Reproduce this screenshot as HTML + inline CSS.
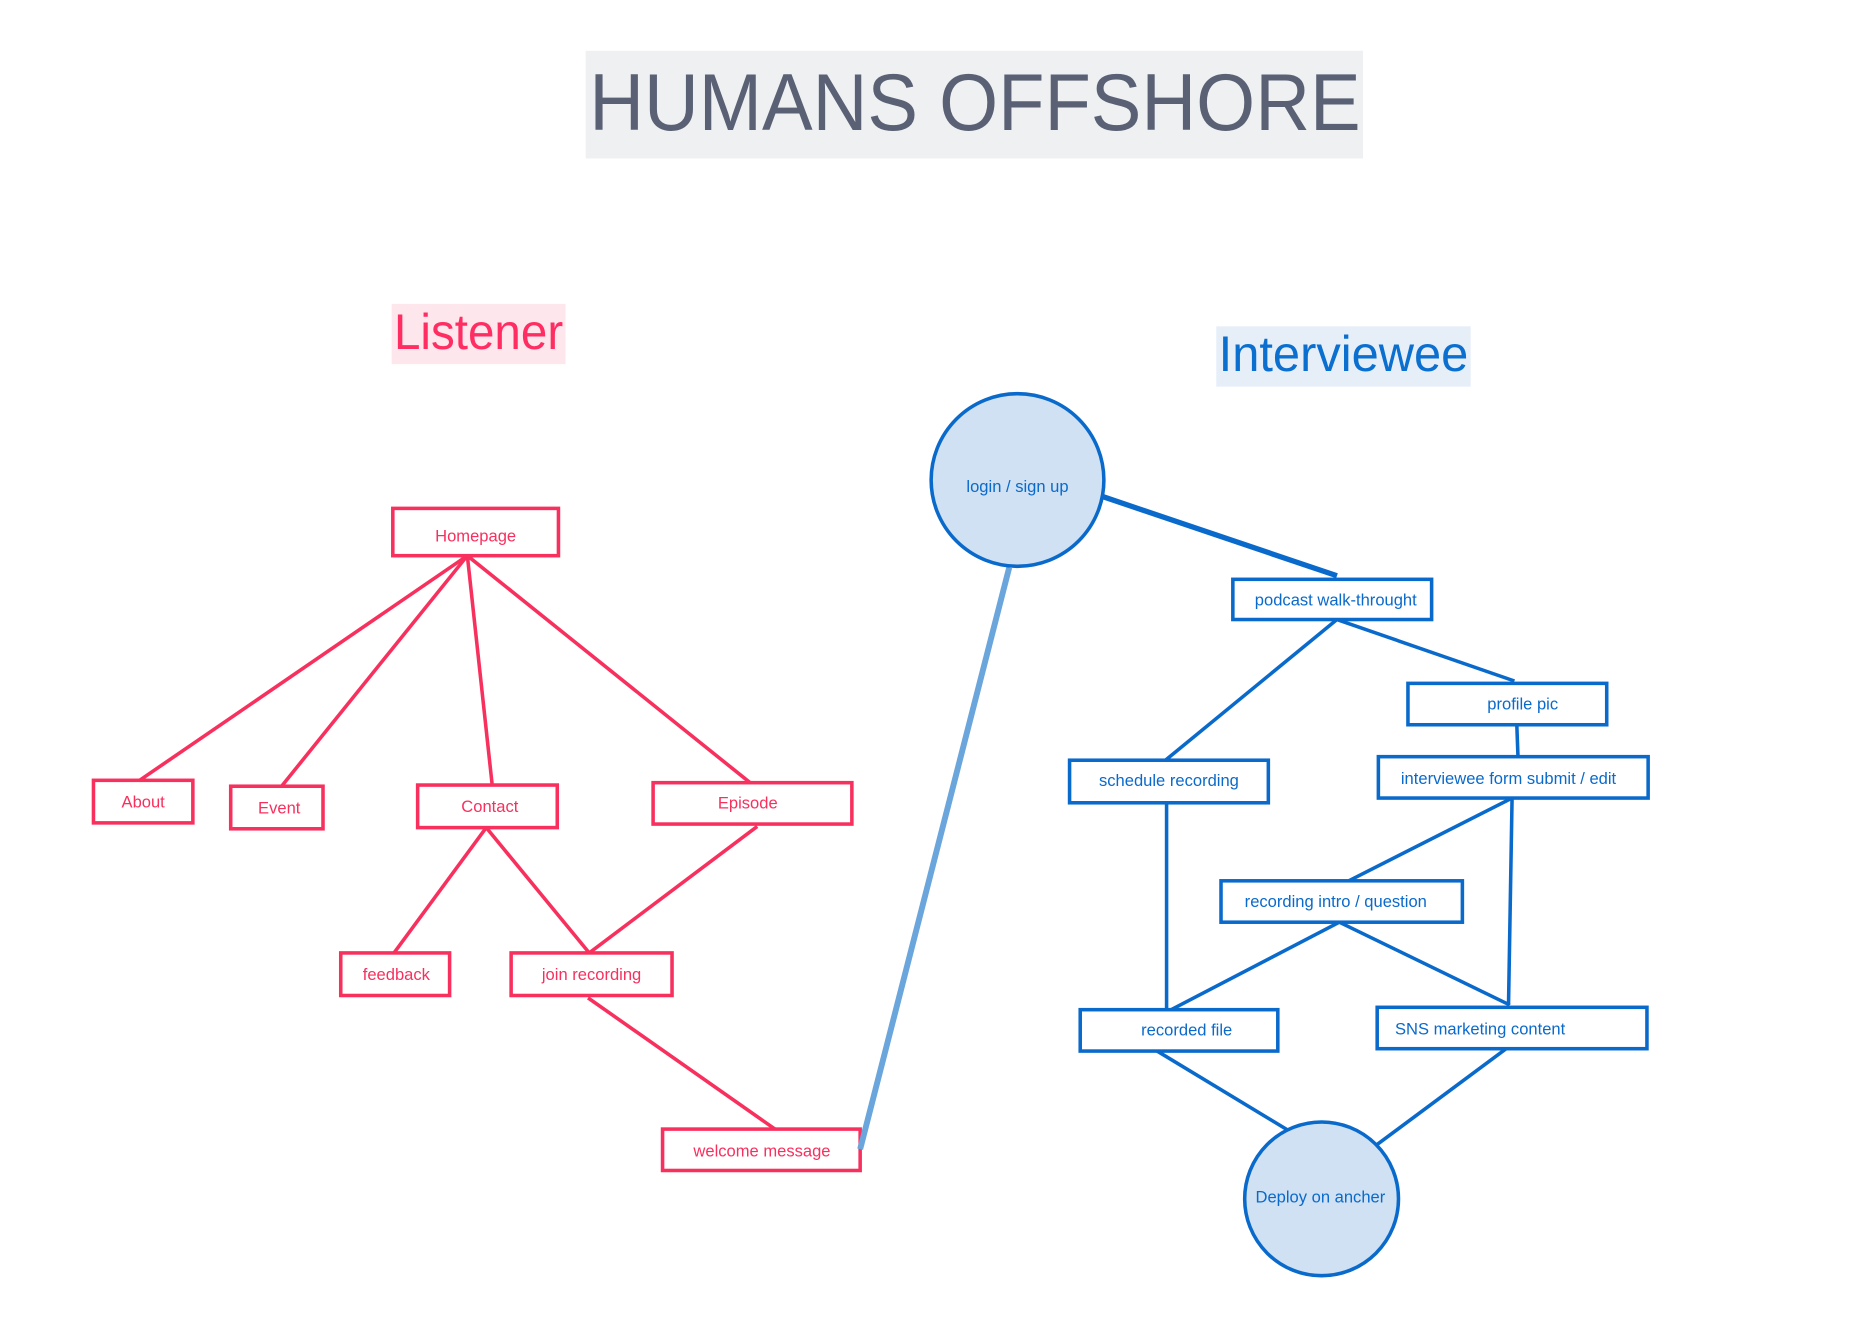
<!DOCTYPE html>
<html><head><meta charset="utf-8"><style>
html,body{margin:0;padding:0;background:#fff;}
svg{display:block;}
text{font-family:"Liberation Sans",sans-serif;}
</style></head><body>
<svg width="1854" height="1336" viewBox="0 0 1567 1130" preserveAspectRatio="none">
<rect x="0" y="0" width="1567" height="1130" fill="#fff"/>
<rect x="495" y="43" width="657" height="91" fill="#eef0f2"/>
<text x="498" y="110" font-size="68" fill="#5a6175" textLength="652" lengthAdjust="spacingAndGlyphs">HUMANS OFFSHORE</text>
<rect x="331" y="257" width="147" height="51" fill="#fde6ec"/>
<text x="333" y="295" font-size="42" fill="#ff2d62" textLength="143" lengthAdjust="spacingAndGlyphs">Listener</text>
<rect x="1028" y="276" width="215" height="51" fill="#e6eef8"/>
<text x="1030" y="314" font-size="42" fill="#0a6fcf" textLength="211" lengthAdjust="spacingAndGlyphs">Interviewee</text>

<g stroke="#f7305e" stroke-width="3" fill="none">
<line x1="395" y1="470" x2="118" y2="660"/>
<line x1="395" y1="470" x2="238" y2="665"/>
<line x1="395" y1="470" x2="416" y2="664"/>
<line x1="395" y1="470" x2="634" y2="662"/>
<line x1="411" y1="700" x2="333" y2="806"/>
<line x1="411" y1="700" x2="498" y2="806"/>
<line x1="640" y1="699" x2="498" y2="806"/>
<line x1="497" y1="844" x2="655" y2="955"/>
<rect x="332" y="430" width="140" height="40" fill="#fff"/>
<rect x="79" y="660" width="84" height="36" fill="#fff"/>
<rect x="195" y="665" width="78" height="36" fill="#fff"/>
<rect x="353" y="664" width="118" height="36" fill="#fff"/>
<rect x="552" y="662" width="168" height="35" fill="#fff"/>
<rect x="288" y="806" width="92" height="36" fill="#fff"/>
<rect x="432" y="806" width="136" height="36" fill="#fff"/>
<rect x="560" y="955" width="167" height="35" fill="#fff"/>
</g>
<g fill="#f7305e" font-size="14" text-anchor="middle">
<text x="402" y="458">Homepage</text>
<text x="121" y="683">About</text>
<text x="236" y="688">Event</text>
<text x="414" y="687">Contact</text>
<text x="632" y="684">Episode</text>
<text x="335" y="829">feedback</text>
<text x="500" y="829">join recording</text>
<text x="644" y="978">welcome message</text>
</g>

<line x1="853" y1="480" x2="727" y2="972" stroke="#6aa5dc" stroke-width="5"/>

<g stroke="#0a6acb" stroke-width="3" fill="none">
<line x1="932" y1="420" x2="1130" y2="487" stroke-width="4.5"/>
<line x1="1130" y1="524" x2="985" y2="643"/>
<line x1="1130" y1="524" x2="1280" y2="576"/>
<line x1="1282" y1="613" x2="1283" y2="640"/>
<line x1="986" y1="679" x2="986" y2="856"/>
<line x1="1278" y1="675" x2="1140" y2="745"/>
<line x1="1278" y1="675" x2="1275" y2="850"/>
<line x1="1132" y1="780" x2="986" y2="856"/>
<line x1="1132" y1="780" x2="1276" y2="850"/>
<line x1="978" y1="889" x2="1092" y2="958"/>
<line x1="1277" y1="884" x2="1164" y2="968"/>
<circle cx="860" cy="406" r="73" fill="#cfe1f3"/>
<circle cx="1117" cy="1014" r="65" fill="#cfe1f3"/>
<rect x="1042" y="490" width="168" height="34" fill="#fff"/>
<rect x="1190" y="578" width="168" height="35" fill="#fff"/>
<rect x="904" y="643" width="168" height="36" fill="#fff"/>
<rect x="1165" y="640" width="228" height="35" fill="#fff"/>
<rect x="1032" y="745" width="204" height="35" fill="#fff"/>
<rect x="913" y="854" width="167" height="35" fill="#fff"/>
<rect x="1164" y="852" width="228" height="35" fill="#fff"/>
</g>
<g fill="#0a6acb" font-size="14" text-anchor="middle">
<text x="860" y="416">login / sign up</text>
<text x="1116" y="1017">Deploy on ancher</text>
<text x="1129" y="512">podcast walk-throught</text>
<text x="1287" y="600">profile pic</text>
<text x="988" y="665">schedule recording</text>
<text x="1275" y="663">interviewee form submit / edit</text>
<text x="1129" y="767">recording intro / question</text>
<text x="1003" y="876">recorded file</text>
<text x="1251" y="875">SNS marketing content</text>
</g>
</svg>
</body></html>
